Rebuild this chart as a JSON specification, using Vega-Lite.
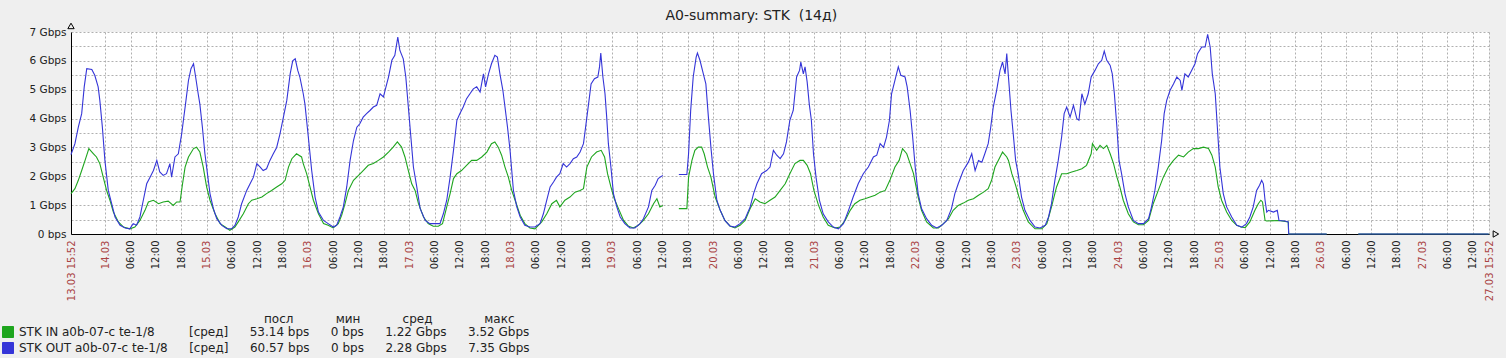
{
  "$schema": "https://vega.github.io/schema/vega-lite/v6.json",
  "width": 1418,
  "height": 202,
  "padding": {"left": 2, "top": 9, "right": 5, "bottom": 2},
  "background": "#efefef",
  "title": {"text": "A0-summary: STK \u00a0(14д)", "fontSize": 14, "fontWeight": "normal", "color": "#222", "anchor": "middle", "frame": "bounds", "offset": -2, "font": "DejaVu Sans"},
  "datasets": {
    "in": [
      {"h":15.867,"v":1.4},{"h":16.8,"v":1.57},{"h":17.6,"v":1.86},{"h":18.4,"v":2.2},{"h":19.2,"v":2.55},{"h":20.1,"v":2.96},{"h":21.2,"v":2.78},{"h":21.9,"v":2.67},{"h":22.7,"v":2.44},{"h":23.5,"v":1.97},{"h":24.3,"v":1.51},{"h":25.1,"v":1.17},{"h":25.9,"v":0.76},{"h":27.1,"v":0.42},{"h":28.3,"v":0.24},{"h":29.8,"v":0.18},{"h":31.0,"v":0.24},{"h":32.2,"v":0.47},{"h":33.4,"v":0.82},{"h":34.2,"v":1.11},{"h":35.4,"v":1.17},{"h":36.6,"v":1.05},{"h":37.7,"v":1.11},{"h":38.9,"v":1.14},{"h":40.1,"v":0.99},{"h":40.9,"v":1.11},{"h":41.7,"v":1.11},{"h":42.3,"v":1.74},{"h":42.9,"v":2.32},{"h":43.7,"v":2.67},{"h":44.9,"v":2.96},{"h":45.6,"v":3.01},{"h":46.4,"v":2.84},{"h":47.2,"v":2.32},{"h":48.0,"v":1.63},{"h":48.8,"v":1.17},{"h":50.0,"v":0.7},{"h":51.2,"v":0.36},{"h":52.4,"v":0.24},{"h":53.5,"v":0.13},{"h":54.7,"v":0.24},{"h":55.5,"v":0.42},{"h":56.7,"v":0.7},{"h":57.9,"v":1.05},{"h":58.7,"v":1.17},{"h":59.9,"v":1.22},{"h":61.1,"v":1.28},{"h":62.2,"v":1.4},{"h":63.4,"v":1.51},{"h":64.6,"v":1.63},{"h":65.8,"v":1.74},{"h":66.6,"v":1.86},{"h":67.4,"v":2.32},{"h":68.2,"v":2.61},{"h":69.3,"v":2.78},{"h":70.5,"v":2.67},
      {"h":70.9,"v":2.44},{"h":71.7,"v":2.09},{"h":72.5,"v":1.63},{"h":73.3,"v":1.17},{"h":74.5,"v":0.7},{"h":75.7,"v":0.36},{"h":76.8,"v":0.3},{"h":78.0,"v":0.21},{"h":79.2,"v":0.36},{"h":80.0,"v":0.65},{"h":80.8,"v":1.05},{"h":81.6,"v":1.51},{"h":82.8,"v":1.86},{"h":84.0,"v":2.03},{"h":85.1,"v":2.2},{"h":86.3,"v":2.38},{"h":87.5,"v":2.44},{"h":88.7,"v":2.55},{"h":89.9,"v":2.67},{"h":91.1,"v":2.84},{"h":92.2,"v":3.01},{"h":93.2,"v":3.19},{"h":94.2,"v":3.01},{"h":95.0,"v":2.67},{"h":95.8,"v":2.2},{"h":96.6,"v":1.74},{"h":97.4,"v":1.51},{"h":98.2,"v":1.05},{"h":99.4,"v":0.59},{"h":100.5,"v":0.36},{"h":101.7,"v":0.27},{"h":102.9,"v":0.27},{"h":103.9,"v":0.36},{"h":104.9,"v":0.94},{"h":105.7,"v":1.4},{"h":106.5,"v":1.92},{"h":107.3,"v":2.09},{"h":108.4,"v":2.2},{"h":109.6,"v":2.38},{"h":110.8,"v":2.55},{"h":112.0,"v":2.55},{"h":113.2,"v":2.67},{"h":114.4,"v":2.84},{"h":115.5,"v":3.13},{"h":116.3,"v":3.19},{"h":117.1,"v":3.01},{"h":117.9,"v":2.73},{"h":118.7,"v":2.32},{"h":119.5,"v":1.97},{"h":120.3,"v":1.51},{"h":121.1,"v":1.17},{"h":122.3,"v":0.65},{"h":123.4,"v":0.36},{"h":124.6,"v":0.21},{"h":125.8,"v":0.18},
      {"h":127.4,"v":0.42},{"h":128.6,"v":0.7},{"h":129.8,"v":1.05},{"h":130.9,"v":1.17},{"h":131.7,"v":0.94},{"h":132.9,"v":1.17},{"h":134.1,"v":1.28},{"h":135.3,"v":1.45},{"h":136.5,"v":1.51},{"h":137.3,"v":1.57},{"h":138.1,"v":2.32},{"h":139.2,"v":2.67},{"h":140.4,"v":2.84},{"h":141.5,"v":2.9},{"h":142.3,"v":2.67},{"h":143.0,"v":2.09},{"h":143.8,"v":1.63},{"h":144.6,"v":1.22},{"h":145.6,"v":0.88},{"h":146.8,"v":0.47},{"h":147.9,"v":0.28},{"h":149.1,"v":0.21},{"h":150.3,"v":0.3},{"h":151.5,"v":0.47},{"h":152.7,"v":0.7},{"h":153.9,"v":1.05},{"h":154.7,"v":1.22},{"h":155.4,"v":0.94},{"h":156.1,"v":0.99},{"h":158.0,"v":null},{"h":159.9,"v":0.88},{"h":161.8,"v":0.88},{"h":162.2,"v":1.97},{"h":163.0,"v":2.55},{"h":163.7,"v":2.9},{"h":164.5,"v":3.01},{"h":165.3,"v":3.01},{"h":165.9,"v":2.78},{"h":166.7,"v":2.32},{"h":167.5,"v":1.97},{"h":168.5,"v":1.28},{"h":169.7,"v":0.82},{"h":170.8,"v":0.47},{"h":172.0,"v":0.28},{"h":173.2,"v":0.21},{"h":174.4,"v":0.3},{"h":175.6,"v":0.47},{"h":176.8,"v":0.88},{"h":178.0,"v":1.22},{"h":179.1,"v":1.11},{"h":180.3,"v":1.05},{"h":181.5,"v":1.17},
      {"h":182.7,"v":1.28},{"h":183.9,"v":1.51},{"h":185.1,"v":1.74},{"h":186.2,"v":2.09},{"h":187.4,"v":2.44},{"h":188.6,"v":2.55},{"h":189.4,"v":2.55},{"h":190.3,"v":2.38},{"h":191.1,"v":2.09},{"h":191.9,"v":1.51},{"h":193.0,"v":0.99},{"h":194.1,"v":0.59},{"h":195.3,"v":0.3},{"h":196.9,"v":0.21},{"h":198.1,"v":0.24},{"h":199.3,"v":0.47},{"h":200.5,"v":0.82},{"h":201.6,"v":1.05},{"h":202.8,"v":1.17},{"h":204.0,"v":1.22},{"h":205.2,"v":1.28},{"h":206.4,"v":1.34},{"h":207.6,"v":1.45},{"h":208.8,"v":1.51},{"h":209.9,"v":1.86},{"h":211.1,"v":2.32},{"h":212.1,"v":2.55},{"h":212.9,"v":2.96},{"h":213.9,"v":2.78},{"h":214.7,"v":2.44},{"h":215.5,"v":2.09},{"h":216.6,"v":1.28},{"h":217.4,"v":0.82},{"h":218.6,"v":0.42},{"h":220.2,"v":0.21},{"h":221.4,"v":0.21},{"h":222.6,"v":0.36},{"h":223.8,"v":0.53},{"h":224.9,"v":0.82},{"h":226.1,"v":0.99},{"h":227.3,"v":1.07},{"h":228.5,"v":1.17},{"h":229.7,"v":1.22},{"h":230.9,"v":1.34},{"h":232.1,"v":1.45},{"h":233.2,"v":1.57},{"h":234.0,"v":1.86},{"h":234.8,"v":2.32},{"h":235.8,"v":2.61},{"h":236.6,"v":2.84},{"h":237.6,"v":2.67},
      {"h":238.0,"v":2.55},{"h":238.8,"v":2.09},{"h":239.6,"v":1.74},{"h":240.5,"v":1.28},{"h":241.5,"v":0.82},{"h":242.7,"v":0.42},{"h":244.3,"v":0.18},{"h":245.9,"v":0.18},{"h":247.1,"v":0.36},{"h":248.2,"v":0.94},{"h":249.4,"v":1.63},{"h":250.6,"v":2.09},{"h":251.8,"v":2.09},{"h":253.0,"v":2.15},{"h":254.2,"v":2.2},{"h":255.4,"v":2.26},{"h":256.5,"v":2.38},{"h":257.6,"v":2.78},{"h":257.9,"v":3.13},{"h":258.9,"v":2.9},{"h":259.7,"v":3.07},{"h":260.5,"v":2.96},{"h":261.3,"v":3.07},{"h":262.1,"v":2.78},{"h":262.9,"v":2.44},{"h":263.7,"v":1.97},{"h":264.4,"v":1.63},{"h":265.2,"v":1.17},{"h":266.4,"v":0.7},{"h":267.6,"v":0.42},{"h":268.8,"v":0.32},{"h":270.0,"v":0.32},{"h":271.2,"v":0.47},{"h":272.3,"v":1.05},{"h":273.5,"v":1.51},{"h":274.7,"v":1.97},{"h":275.9,"v":2.32},{"h":277.1,"v":2.55},{"h":278.3,"v":2.73},{"h":279.5,"v":2.67},{"h":280.6,"v":2.84},{"h":281.8,"v":2.96},{"h":283.0,"v":2.96},{"h":284.2,"v":3.01},{"h":285.4,"v":2.96},{"h":286.2,"v":2.73},{"h":287.0,"v":2.32},{"h":287.7,"v":1.63},{"h":288.5,"v":1.17},{"h":289.7,"v":0.76},{"h":290.9,"v":0.47},{"h":292.1,"v":0.3},{"h":293.1,"v":0.24},
      {"h":294.1,"v":0.22},{"h":295.2,"v":0.42},{"h":296.4,"v":0.82},{"h":297.2,"v":1.05},{"h":297.8,"v":1.17},{"h":298.2,"v":1.11},{"h":298.8,"v":0.47},{"h":299.2,"v":0.45},{"h":302.1,"v":0.47},{"h":304.3,"v":0.42},{"h":304.4,"v":0},{"h":313.4,"v":0},{"h":314.0,"v":null},{"h":320.9,"v":0},{"h":351.8,"v":0}
    ],
    "out": [
      {"h":15.867,"v":2.75},{"h":16.8,"v":3.13},{"h":17.6,"v":3.7},{"h":18.4,"v":4.17},{"h":19.0,"v":5.1},{"h":19.6,"v":5.73},{"h":20.8,"v":5.7},{"h":21.5,"v":5.5},{"h":22.3,"v":5.1},{"h":22.7,"v":4.63},{"h":23.3,"v":3.7},{"h":23.9,"v":2.55},{"h":24.7,"v":1.51},{"h":25.5,"v":1.05},{"h":26.3,"v":0.59},{"h":27.5,"v":0.3},{"h":28.7,"v":0.21},{"h":29.8,"v":0.18},{"h":30.6,"v":0.36},{"h":31.4,"v":0.3},{"h":32.2,"v":0.59},{"h":33.0,"v":1.17},{"h":33.8,"v":1.74},{"h":34.6,"v":1.97},{"h":35.4,"v":2.2},{"h":36.2,"v":2.55},{"h":36.9,"v":2.15},{"h":37.7,"v":2.03},{"h":38.5,"v":2.09},{"h":39.3,"v":2.44},{"h":39.7,"v":1.97},{"h":40.5,"v":2.67},{"h":41.3,"v":2.78},{"h":41.7,"v":3.13},{"h":42.1,"v":3.48},{"h":42.5,"v":3.94},{"h":43.0,"v":4.5},{"h":43.7,"v":5.32},{"h":44.3,"v":5.73},{"h":44.9,"v":5.9},{"h":45.4,"v":5.44},{"h":46.0,"v":4.86},{"h":46.4,"v":4.5},{"h":47.0,"v":3.7},{"h":47.6,"v":2.78},{"h":48.3,"v":1.97},{"h":48.8,"v":1.4},{"h":49.6,"v":0.88},{"h":50.4,"v":0.53},{"h":51.6,"v":0.3},{"h":52.8,"v":0.18},{"h":53.9,"v":0.18},{"h":54.7,"v":0.3},{"h":55.5,"v":0.59},{"h":56.3,"v":1.05},{"h":57.5,"v":1.51},{"h":58.3,"v":1.74},{"h":59.1,"v":1.97},{"h":59.9,"v":2.44},{"h":60.7,"v":2.32},{"h":61.4,"v":2.2},{"h":62.2,"v":2.26},{"h":63.0,"v":2.55},{"h":63.8,"v":2.78},{"h":64.6,"v":3.0},{"h":65.4,"v":3.48},{"h":66.2,"v":4.05},{"h":67.0,"v":4.63},{"h":67.8,"v":5.55},{"h":68.4,"v":6.0},{"h":69.0,"v":6.07},{"h":69.6,"v":5.67},{"h":70.1,"v":5.44},
      {"h":70.9,"v":4.86},{"h":71.3,"v":4.5},{"h":72.1,"v":3.36},{"h":72.9,"v":2.2},{"h":73.7,"v":1.28},{"h":74.5,"v":0.76},{"h":75.7,"v":0.47},{"h":76.8,"v":0.36},{"h":78.0,"v":0.24},{"h":78.8,"v":0.3},{"h":79.6,"v":0.59},{"h":80.4,"v":0.94},{"h":81.2,"v":1.63},{"h":82.0,"v":2.55},{"h":82.8,"v":3.24},{"h":83.6,"v":3.7},{"h":84.3,"v":3.82},{"h":85.1,"v":4.05},{"h":85.9,"v":4.17},{"h":86.7,"v":4.28},{"h":87.5,"v":4.4},{"h":88.3,"v":4.46},{"h":89.1,"v":4.86},{"h":89.9,"v":4.75},{"h":90.5,"v":5.1},{"h":91.1,"v":5.44},{"h":91.9,"v":6.02},{"h":92.6,"v":6.19},{"h":93.3,"v":6.82},{"h":93.8,"v":6.36},{"h":94.6,"v":6.07},{"h":95.2,"v":5.44},{"h":95.8,"v":4.4},{"h":96.4,"v":3.36},{"h":97.0,"v":2.32},{"h":97.8,"v":1.63},{"h":98.6,"v":0.88},{"h":99.8,"v":0.47},{"h":100.9,"v":0.36},{"h":102.1,"v":0.36},{"h":103.3,"v":0.36},{"h":104.1,"v":0.7},{"h":104.9,"v":1.17},{"h":105.7,"v":1.97},{"h":106.5,"v":2.9},{"h":107.3,"v":3.94},{"h":108.0,"v":4.17},{"h":108.8,"v":4.4},{"h":109.6,"v":4.69},{"h":110.4,"v":4.86},{"h":111.2,"v":5.03},{"h":112.0,"v":5.1},{"h":112.8,"v":4.92},{"h":113.6,"v":5.55},{"h":114.1,"v":5.1},{"h":114.8,"v":5.55},{"h":115.5,"v":5.9},{"h":116.3,"v":6.19},{"h":116.9,"v":6.13},{"h":117.5,"v":5.55},{"h":118.2,"v":4.98},{"h":118.7,"v":4.4},{"h":119.3,"v":3.7},{"h":119.9,"v":2.9},{"h":120.7,"v":1.51},{"h":121.5,"v":0.94},{"h":122.3,"v":0.59},{"h":123.4,"v":0.3},{"h":124.6,"v":0.24},{"h":125.8,"v":0.24},
      {"h":127.0,"v":0.36},{"h":127.8,"v":0.7},{"h":128.6,"v":1.17},{"h":129.4,"v":1.63},{"h":130.2,"v":1.8},{"h":130.9,"v":1.97},{"h":131.7,"v":2.09},{"h":132.5,"v":2.44},{"h":133.3,"v":2.32},{"h":134.1,"v":2.44},{"h":134.9,"v":2.61},{"h":135.7,"v":2.67},{"h":136.5,"v":2.84},{"h":137.3,"v":3.13},{"h":137.8,"v":3.7},{"h":138.5,"v":4.5},{"h":139.1,"v":5.2},{"h":139.9,"v":5.38},{"h":140.7,"v":5.44},{"h":141.1,"v":5.79},{"h":141.4,"v":6.27},{"h":141.9,"v":5.44},{"h":142.4,"v":4.86},{"h":142.8,"v":4.05},{"h":143.2,"v":3.13},{"h":143.8,"v":2.32},{"h":144.4,"v":1.4},{"h":145.2,"v":0.94},{"h":146.0,"v":0.59},{"h":147.1,"v":0.36},{"h":148.3,"v":0.21},{"h":149.5,"v":0.21},{"h":150.7,"v":0.36},{"h":151.5,"v":0.53},{"h":152.7,"v":0.94},{"h":153.5,"v":1.51},{"h":154.3,"v":1.69},{"h":155.0,"v":1.92},{"h":156.1,"v":2.03},{"h":158.0,"v":null},{"h":159.9,"v":2.06},{"h":161.8,"v":2.06},{"h":162.2,"v":2.78},{"h":162.7,"v":4.28},{"h":163.3,"v":5.44},{"h":164.0,"v":6.13},{"h":164.3,"v":6.27},{"h":164.9,"v":6.02},{"h":165.7,"v":5.55},{"h":166.3,"v":5.2},{"h":166.9,"v":4.05},{"h":167.5,"v":3.0},{"h":168.1,"v":2.09},{"h":168.9,"v":1.17},{"h":169.7,"v":0.82},{"h":170.8,"v":0.47},{"h":172.0,"v":0.28},{"h":173.2,"v":0.24},{"h":174.4,"v":0.36},{"h":175.6,"v":0.53},{"h":176.8,"v":0.94},{"h":177.6,"v":1.4},{"h":178.4,"v":1.74},{"h":179.5,"v":2.09},{"h":180.7,"v":2.2},{"h":181.5,"v":2.32},
      {"h":182.3,"v":2.9},{"h":183.1,"v":2.73},{"h":183.9,"v":2.61},{"h":184.7,"v":2.78},{"h":185.4,"v":3.19},{"h":186.2,"v":3.94},{"h":187.0,"v":4.28},{"h":187.4,"v":4.86},{"h":187.8,"v":5.44},{"h":188.5,"v":5.67},{"h":188.8,"v":5.96},{"h":189.4,"v":5.55},{"h":189.8,"v":5.79},{"h":190.3,"v":5.27},{"h":190.8,"v":4.5},{"h":191.3,"v":3.94},{"h":191.8,"v":2.78},{"h":192.4,"v":1.97},{"h":193.2,"v":1.17},{"h":194.1,"v":0.7},{"h":195.3,"v":0.42},{"h":196.5,"v":0.24},{"h":197.7,"v":0.18},{"h":198.9,"v":0.36},{"h":200.1,"v":0.82},{"h":201.2,"v":1.28},{"h":202.4,"v":1.74},{"h":203.6,"v":2.09},{"h":204.8,"v":2.32},{"h":206.0,"v":2.67},{"h":206.8,"v":2.73},{"h":207.6,"v":3.13},{"h":208.4,"v":3.0},{"h":209.1,"v":3.36},{"h":209.8,"v":3.94},{"h":210.3,"v":4.86},{"h":211.1,"v":5.32},{"h":211.9,"v":5.79},{"h":212.5,"v":5.5},{"h":213.5,"v":5.44},{"h":214.0,"v":5.1},{"h":214.7,"v":4.28},{"h":215.3,"v":3.36},{"h":215.9,"v":2.32},{"h":216.6,"v":1.4},{"h":217.4,"v":0.88},{"h":218.6,"v":0.53},{"h":219.8,"v":0.3},{"h":221.0,"v":0.21},{"h":222.2,"v":0.3},{"h":223.4,"v":0.47},{"h":224.5,"v":0.88},{"h":225.3,"v":1.4},{"h":226.1,"v":1.74},{"h":227.3,"v":2.2},{"h":228.5,"v":2.49},{"h":229.3,"v":2.78},{"h":230.1,"v":2.2},{"h":230.9,"v":2.55},{"h":231.7,"v":2.49},{"h":232.4,"v":2.78},{"h":233.2,"v":3.13},{"h":233.8,"v":3.7},{"h":234.4,"v":4.4},{"h":235.2,"v":4.98},{"h":236.0,"v":5.67},{"h":236.6,"v":5.96},{"h":237.2,"v":5.55},{"h":237.6,"v":6.25},{"h":238.0,"v":5.44},
      {"h":238.6,"v":4.28},{"h":239.2,"v":3.36},{"h":239.7,"v":2.55},{"h":240.3,"v":2.09},{"h":241.1,"v":1.28},{"h":241.9,"v":0.82},{"h":243.1,"v":0.47},{"h":244.3,"v":0.24},{"h":245.5,"v":0.21},{"h":246.7,"v":0.3},{"h":247.5,"v":0.59},{"h":248.2,"v":1.05},{"h":249.0,"v":1.86},{"h":249.8,"v":2.55},{"h":250.6,"v":3.36},{"h":251.2,"v":4.17},{"h":251.8,"v":4.4},{"h":252.6,"v":4.05},{"h":253.4,"v":4.46},{"h":254.2,"v":4.0},{"h":254.7,"v":3.94},{"h":255.4,"v":4.86},{"h":256.1,"v":4.5},{"h":256.9,"v":4.86},{"h":257.6,"v":5.44},{"h":258.5,"v":5.67},{"h":259.3,"v":5.9},{"h":260.1,"v":6.02},{"h":260.7,"v":6.34},{"h":261.3,"v":6.02},{"h":262.1,"v":5.84},{"h":262.6,"v":5.55},{"h":263.1,"v":4.86},{"h":263.7,"v":3.7},{"h":264.2,"v":2.55},{"h":264.8,"v":2.09},{"h":265.6,"v":1.4},{"h":266.4,"v":0.94},{"h":267.6,"v":0.47},{"h":268.8,"v":0.36},{"h":270.0,"v":0.36},{"h":271.2,"v":0.53},{"h":271.9,"v":0.94},{"h":272.7,"v":1.51},{"h":273.5,"v":2.32},{"h":274.3,"v":3.24},{"h":274.9,"v":4.17},{"h":275.5,"v":4.63},{"h":276.3,"v":4.98},{"h":277.1,"v":5.2},{"h":277.9,"v":5.44},{"h":278.7,"v":5.32},{"h":279.1,"v":4.98},{"h":279.8,"v":5.55},{"h":280.6,"v":5.44},{"h":281.4,"v":5.67},{"h":282.2,"v":5.9},{"h":282.8,"v":6.25},{"h":283.8,"v":6.48},{"h":284.6,"v":6.48},{"h":285.2,"v":6.92},{"h":285.8,"v":6.48},{"h":286.3,"v":5.55},{"h":287.0,"v":4.86},{"h":287.5,"v":3.7},{"h":288.1,"v":2.32},{"h":288.9,"v":1.4},{"h":289.7,"v":0.94},{"h":290.9,"v":0.59},{"h":292.1,"v":0.3},{"h":293.3,"v":0.24},
      {"h":294.4,"v":0.36},{"h":295.2,"v":0.59},{"h":296.0,"v":0.94},{"h":296.8,"v":1.51},{"h":297.5,"v":1.69},{"h":298.0,"v":1.86},{"h":298.4,"v":1.74},{"h":298.8,"v":1.17},{"h":299.2,"v":0.76},{"h":299.6,"v":0.82},{"h":300.8,"v":0.76},{"h":301.7,"v":0.82},{"h":302.1,"v":0.47},{"h":303.5,"v":0.45},{"h":304.3,"v":0.42},{"h":304.4,"v":0},{"h":313.4,"v":0},{"h":314.0,"v":null},{"h":320.9,"v":0},{"h":351.8,"v":0}
    ]
  },
  "encoding": {
    "x": {
      "field": "h", "type": "quantitative",
      "scale": {"domain": [15.866667, 351.866667], "nice": false, "zero": false},
      "axis": {
        "title": null,
        "values": [15.866667,24,30,36,42,48,54,60,66,72,78,84,90,96,102,108,114,120,126,132,138,144,150,156,162,168,174,180,186,192,198,204,210,216,222,228,234,240,246,252,258,264,270,276,282,288,294,300,306,312,318,324,330,336,342,348,351.866667],
        "labelExpr": "datum.value % 6 != 0 ? (datum.value < 100 ? '13.03 15:52' : '27.03 15:52') : (datum.value % 24 == 0 ? (13 + datum.value / 24) + '.03' : ((datum.value % 24) < 10 ? '0' : '') + (datum.value % 24) + ':00')",
        "labelColor": {"condition": {"test": "datum.value % 24 == 0 || datum.value % 6 != 0", "value": "#aa4444"}, "value": "#222222"},
        "labelAngle": 270,
        "labelPadding": 6,
        "labelOverlap": false,
        "labelFlush": false,
        "labelBound": false,
        "labelFontSize": 10,
        "grid": true,
        "ticks": false
      }
    },
    "y": {
      "field": "v", "type": "quantitative",
      "scale": {"domain": [0, 7], "nice": false, "zero": true},
      "axis": {
        "title": null,
        "values": [0,0.5,1,1.5,2,2.5,3,3.5,4,4.5,5,5.5,6,6.5,7],
        "labelExpr": "datum.value % 1 != 0 ? '' : (datum.value == 0 ? '0 bps' : datum.value + ' Gbps')",
        "labelPadding": 5,
        "labelFontSize": 10.5,
        "labelColor": "#222222",
        "grid": true,
        "ticks": false
      }
    }
  },
  "layer": [
    {
      "data": {"name": "in"},
      "mark": {"type": "line", "strokeWidth": 1.1, "interpolate": "linear"},
      "encoding": {
        "color": {
          "datum": "IN", "type": "nominal",
          "scale": {"domain": ["IN", "OUT"], "range": ["#1ea51e", "#3535d8"]},
          "legend": {
            "orient": "none", "legendX": -69, "legendY": 282, "direction": "vertical", "padding": 0,
            "title": "\u200b\u2003\u2003\u2003\u2003\u2003\u2003\u2003\u2003\u2003\u2003\u2003\u2003\u2003\u2003\u2003\u2003\u2003\u2003\u2003\u2003\u2003\u00a0\u00a0\u2009посл\u2003\u2003\u2003\u00a0\u2009мин\u2003\u2003\u2003\u00a0\u2009сред\u2003\u2003\u2003\u2003\u00a0макс",
            "titleFontSize": 12, "titleFontWeight": "normal", "titleColor": "#222222", "titleLimit": 2000, "titlePadding": 0,
            "labelFontSize": 12, "labelColor": "#222222", "labelLimit": 2000, "labelOffset": 5,
            "symbolType": "square", "symbolSize": 121, "symbolStrokeWidth": 1, "rowPadding": 0,
            "labelExpr": "datum.label == 'IN' ? 'STK IN a0b-07-c te-1/8\u00a0\u00a0\u00a0\u00a0\u00a0\u00a0\u00a0\u00a0\u00a0[сред]\u00a0\u00a0\u00a0\u00a0\u00a0\u200953.14 bps\u00a0\u00a0\u00a0\u00a0\u00a0\u20090 bps\u00a0\u00a0\u00a0\u00a0\u00a0\u20091.22 Gbps\u00a0\u00a0\u00a0\u00a0\u00a0\u20093.52 Gbps' : 'STK OUT a0b-07-c te-1/8\u00a0\u00a0\u00a0\u00a0\u00a0\u2009[сред]\u00a0\u00a0\u00a0\u00a0\u00a0\u200960.57 bps\u00a0\u00a0\u00a0\u00a0\u00a0\u20090 bps\u00a0\u00a0\u00a0\u00a0\u00a0\u20092.28 Gbps\u00a0\u00a0\u00a0\u00a0\u00a0\u20097.35 Gbps'",
            "encode": {"symbols": {"update": {"fill": {"scale": "color", "field": "value"}, "stroke": {"value": "#333333"}, "opacity": {"value": 1}, "fillOpacity": {"value": 1}}}}
          }
        }
      }
    },
    {
      "data": {"name": "out"},
      "mark": {"type": "line", "strokeWidth": 1.1, "interpolate": "linear"},
      "encoding": {
        "color": {"datum": "OUT", "type": "nominal"}
      }
    },
    {
      "data": {"values": [{"h": 15.866667, "v": 7.21, "k": "y"}, {"h": 353.5, "v": 0, "k": "x"}]},
      "mark": {"type": "point", "filled": false, "color": "black", "strokeWidth": 1, "size": 40, "opacity": 1},
      "encoding": {
        "shape": {"field": "k", "type": "nominal", "scale": {"domain": ["y", "x"], "range": ["triangle-up", "triangle-right"]}, "legend": null}
      }
    }
  ],
  "config": {
    "font": "DejaVu Sans",
    "view": {"fill": "white", "stroke": null},
    "axis": {"domainColor": "#000000", "domainWidth": 1, "gridColor": "#b0b0b0", "gridDash": [2, 2], "gridWidth": 1, "labelFont": "DejaVu Sans"},
    "legend": {"labelFont": "DejaVu Sans", "titleFont": "DejaVu Sans"}
  }
}
